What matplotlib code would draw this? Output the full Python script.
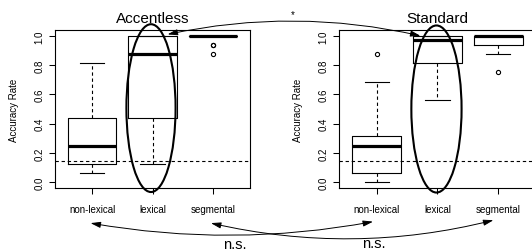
import matplotlib.pyplot as plt
from matplotlib.patches import Ellipse, ConnectionPatch

plt.rcParams['font.family'] = ['Liberation Sans', 'DejaVu Sans']

categorias = ['non-lexical', 'lexical', 'segmental']

# Accentless
acc_q1 = [0.125, 0.4375, 1.0]
acc_med = [0.25, 0.875, 1.0]
acc_q3 = [0.4375, 1.0, 1.0]
acc_lo = [0.0625, 0.125, 1.0]
acc_hi = [0.8125, 1.0, 1.0]
acc_fliers = [[], [], [0.9375, 0.9375, 0.875]]

# Standard
std_q1 = [0.0625, 0.8125, 0.9375]
std_med = [0.25, 0.96875, 1.0]
std_q3 = [0.3125, 1.0, 1.0]
std_lo = [0.0, 0.5625, 0.875]
std_hi = [0.6875, 1.0, 1.0]
std_fliers = [[0.875], [], [0.75]]

azar = 1 / 7  # nivel de azar
y_ticks = [0.0, 0.2, 0.4, 0.6, 0.8, 1.0]

W, H = 532, 253
fig = plt.figure(figsize=(W / 100, H / 100), dpi=100)
ax1 = fig.add_axes([55 / W, 1 - 189 / H, 195 / W, 158 / H])
ax2 = fig.add_axes([339 / W, 1 - 189 / H, 197 / W, 158 / H])


def panel(ax, titulo, q1, med, q3, lo, hi, fl):
    stats = []
    for i in range(len(categorias)):
        stats.append({'q1': q1[i], 'med': med[i], 'q3': q3[i],
                      'whislo': lo[i], 'whishi': hi[i], 'fliers': fl[i],
                      'label': categorias[i]})
    ax.bxp(stats, positions=[1, 2, 3], widths=0.8, capwidths=0.4,
           boxprops=dict(color='black', linewidth=0.8),
           medianprops=dict(color='black', linewidth=2.3, solid_capstyle='butt'),
           whiskerprops=dict(color='black', linewidth=0.8, linestyle=(0, (3, 2.5))),
           capprops=dict(color='black', linewidth=0.8),
           flierprops=dict(marker='o', markersize=3, markerfacecolor='none',
                           markeredgecolor='black', markeredgewidth=0.8))
    ax.axhline(azar, color='black', linewidth=0.8, linestyle=(0, (3, 2.5)))
    ax.set_xlim(0.38, 3.62)
    ax.set_ylim(-0.04, 1.04)
    ax.set_yticks(y_ticks)
    ax.set_yticklabels(['%.1f' % v for v in y_ticks], rotation=90, va='center')
    ax.tick_params(axis='both', labelsize=7, length=4.3, width=0.75, direction='out')
    ax.tick_params(axis='x', pad=7)
    ax.tick_params(axis='y', pad=3.3)
    ax.set_ylabel('Accuracy Rate', fontsize=7, labelpad=11)
    ax.set_title(titulo, fontsize=11, pad=5.5)
    for s in ax.spines.values():
        s.set_linewidth(0.8)


panel(ax1, 'Accentless', acc_q1, acc_med, acc_q3, acc_lo, acc_hi, acc_fliers)
panel(ax2, 'Standard', std_q1, std_med, std_q3, std_lo, std_hi, std_fliers)

# elipses sobre lexical
ax1.add_patch(Ellipse((1.975, 0.506), 0.817, 1.147, fill=False, edgecolor='black',
                      linewidth=1.5, clip_on=False, zorder=5))
ax2.add_patch(Ellipse((1.983, 0.50), 0.826, 1.142, fill=False, edgecolor='black',
                      linewidth=1.5, clip_on=False, zorder=5))

# flechas de comparacion
estilo = '<|-|>,head_length=0.6,head_width=0.18'
flechas = [((2.25, 1.01), (1.72, 1.0), -0.11),
           ((0.97, -0.28), (0.94, -0.27), 0.09),
           ((2.97, -0.28), (2.92, -0.26), 0.12)]
for a, b, rad in flechas:
    cp = ConnectionPatch(a, b, coordsA=ax1.transData, coordsB=ax2.transData,
                         arrowstyle=estilo, connectionstyle='arc3,rad=%s' % rad,
                         color='black', linewidth=0.7, mutation_scale=10,
                         shrinkA=0, shrinkB=0)
    fig.add_artist(cp)

fig.text(293 / W, 1 - 15 / H, '*', fontsize=7, ha='center', va='center')
fig.text(235 / W, 1 - 245 / H, 'n.s.', fontsize=10.5, ha='center', va='center')
fig.text(374 / W, 1 - 244 / H, 'n.s.', fontsize=10.5, ha='center', va='center')

fig.savefig('out.png', dpi=100)
